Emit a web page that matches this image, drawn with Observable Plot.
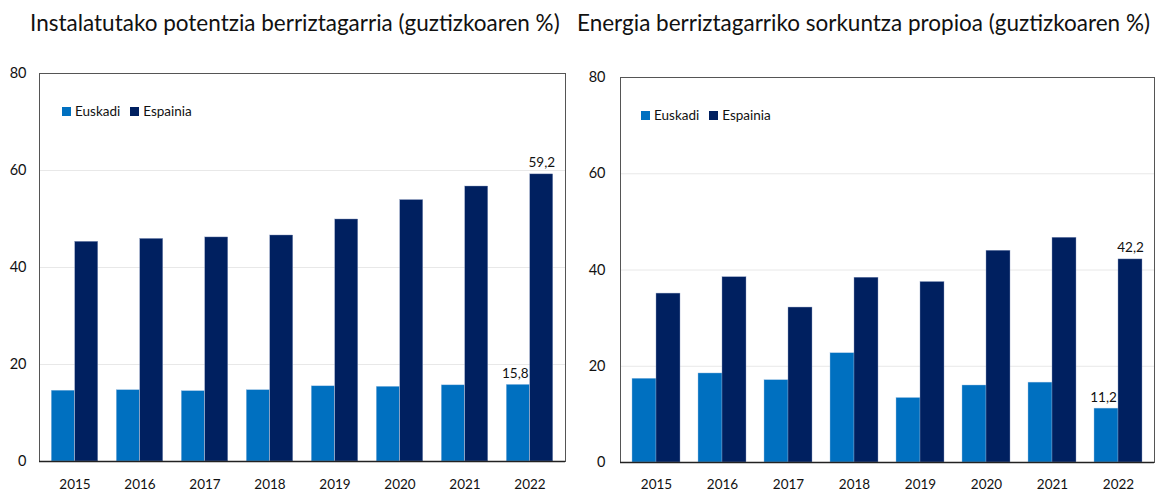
<!DOCTYPE html>
<html><head><meta charset="utf-8">
<script src="https://cdn.jsdelivr.net/npm/d3@7"></script>
<script src="https://cdn.jsdelivr.net/npm/@observablehq/plot@0.6"></script>
<style>
html,body{margin:0;padding:0;background:#fff;}
#root{position:relative;width:1155px;height:494px;overflow:hidden;font-family:Lato,"Open Sans",sans-serif;color:#111;}
.title{position:absolute;top:9px;font-size:22.5px;white-space:nowrap;color:#111;}
.panel{position:absolute;top:45px;}
.legend{position:absolute;display:flex;align-items:center;font-size:13.5px;color:#111;white-space:nowrap;}
.sw{display:inline-block;width:9px;height:9px;margin-right:4px;}
.item{display:flex;align-items:center;margin-right:10px;}
</style></head><body><div id="root"></div>
<script>
// ---- data ----
const years = ["2015","2016","2017","2018","2019","2020","2021","2022"];
const seriesNames = ["Euskadi","Espainia"];
const seriesColors = ["#0070C0","#002060"];
const yTicks = [0,20,40,60,80];

const title1 = "Instalatutako potentzia berriztagarria (guztizkoaren %)";
const pot_Euskadi  = [14.6, 14.7, 14.5, 14.7, 15.5, 15.4, 15.7, 15.8];
const pot_Espainia = [45.3, 45.9, 46.2, 46.6, 49.9, 53.9, 56.7, 59.2];

const title2 = "Energia berriztagarriko sorkuntza propioa (guztizkoaren %)";
const gen_Euskadi  = [17.4, 18.5, 17.1, 22.7, 13.4, 16.0, 16.6, 11.2];
const gen_Espainia = [35.1, 38.5, 32.2, 38.4, 37.5, 44.0, 46.7, 42.2];

const labelYear = "2022";

// ---- helpers ----
const fmt = v => d3.format(".1f")(v).replace(".", ",");

function rows(eus, esp) {
  const out = [];
  years.forEach((y, i) => {
    out.push({year: y, series: seriesNames[0], value: eus[i]});
    out.push({year: y, series: seriesNames[1], value: esp[i]});
  });
  return out;
}

function panel(data, o) {
  const half = o.barW / 2;
  const eus = data.filter(d => d.series === seriesNames[0]);
  const esp = data.filter(d => d.series === seriesNames[1]);
  const pad = 1 - o.barW / ((o.width - o.marginLeft - o.marginRight) / years.length);
  return Plot.plot({
    width: o.width, height: o.height,
    marginLeft: o.marginLeft, marginRight: o.marginRight,
    marginTop: o.marginTop, marginBottom: o.marginBottom,
    style: {fontFamily: "Lato, 'Open Sans', sans-serif", fontSize: "13.5px", color: "#111", background: "transparent"},
    x: {type: "band", domain: years, paddingInner: pad, paddingOuter: pad / 2, tickSize: 0, tickPadding: o.xPad, label: null},
    y: {domain: [0, 80], ticks: yTicks, tickSize: 0, tickPadding: o.yPad, label: null, tickFormat: d => String(d)},
    color: {domain: seriesNames, range: seriesColors},
    marks: [
      Plot.gridY([20, 40, 60], {stroke: "#e8e8e8", strokeOpacity: 1}),
      Plot.barY(eus, {x: "year", y: "value", fill: "series", dx: -half, stroke: "#9fc3e6", strokeWidth: 0.4}),
      Plot.barY(esp, {x: "year", y: "value", fill: "series", dx: half, stroke: "#8c9cc0", strokeWidth: 0.4}),
      Plot.axisY({ticks: yTicks, tickSize: 0, tickPadding: o.yPad, fontSize: 14.5, tickFormat: d => String(d)}),
      Plot.text(eus.filter(d => d.year === labelYear), {x: "year", y: "value", text: d => fmt(d.value), dx: -half - 3, dy: -7, lineAnchor: "bottom", fontSize: 13.5, fill: "#111"}),
      Plot.text(esp.filter(d => d.year === labelYear), {x: "year", y: "value", text: d => fmt(d.value), dx: half, dy: -7, lineAnchor: "bottom", fontSize: 13.5, fill: "#111"}),
      Plot.frame({stroke: "#555", strokeWidth: 1}),
      Plot.ruleY([0], {stroke: "#222", strokeWidth: 1.3})
    ]
  });
}

function legend(left, top) {
  const lg = document.createElement("div");
  lg.className = "legend";
  lg.style.left = left + "px";
  lg.style.top = top + "px";
  seriesNames.forEach((n, i) => {
    const it = document.createElement("span");
    it.className = "item";
    const sw = document.createElement("span");
    sw.className = "sw";
    sw.style.background = seriesColors[i];
    it.appendChild(sw);
    it.appendChild(document.createTextNode(n));
    lg.appendChild(it);
  });
  return lg;
}

const root = document.getElementById("root");

function addTitle(text, left) {
  const t = document.createElement("div");
  t.className = "title";
  t.style.left = left + "px";
  t.textContent = text;
  root.appendChild(t);
}

addTitle(title1, 30);
addTitle(title2, 577);

const p1 = panel(rows(pot_Euskadi, pot_Espainia), {width: 570, height: 449, marginLeft: 39, marginRight: 5, marginTop: 28, marginBottom: 33, barW: 23.5, xPad: 18, yPad: 13});
const w1 = document.createElement("div"); w1.className = "panel"; w1.style.left = "0px"; w1.appendChild(p1); root.appendChild(w1);

const p2 = panel(rows(gen_Euskadi, gen_Espainia), {width: 585, height: 449, marginLeft: 50, marginRight: 1, marginTop: 32, marginBottom: 32, barW: 24, xPad: 17, yPad: 15});
const w2 = document.createElement("div"); w2.className = "panel"; w2.style.left = "570px"; w2.appendChild(p2); root.appendChild(w2);

root.appendChild(legend(62, 103));
root.appendChild(legend(641, 107));
</script>
</body></html>
